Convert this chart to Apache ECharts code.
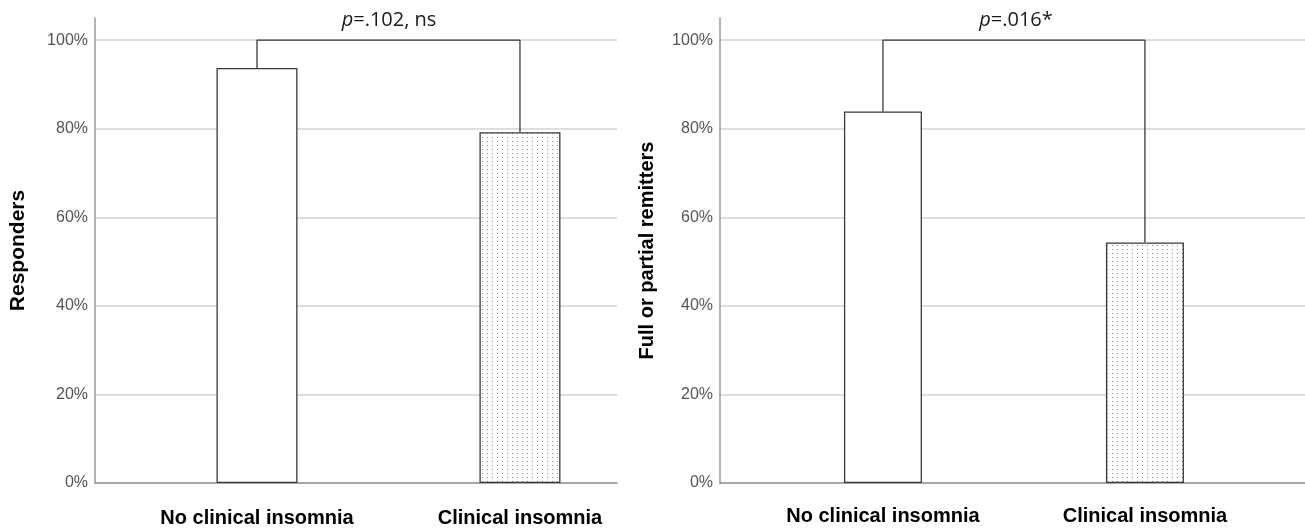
<!DOCTYPE html>
<html>
<head>
<meta charset="utf-8">
<script src="https://cdn.jsdelivr.net/npm/echarts@6/dist/echarts.min.js"></script>
<style>
html,body{margin:0;padding:0;background:#fff;}
#chart{width:1305px;height:528px;}
</style>
</head>
<body>
<div id="chart"></div>
<script>
// ---- data ----
const categories = ['No clinical insomnia', 'Clinical insomnia'];
const respondersPct = [93.7, 79.2];
const remittersPct = [83.9, 54.3];
const yTicks = [0, 20, 40, 60, 80, 100];
const pValueText = ['.102, ns', '.016*'];
const yTitles = ['Responders', 'Full or partial remitters'];

// dotted pattern for clinical insomnia bar
const pc = document.createElement('canvas');
pc.width = 5; pc.height = 4;
const pctx = pc.getContext('2d');
pctx.fillStyle = '#ffffff'; pctx.fillRect(0, 0, 5, 4);
pctx.fillStyle = '#8c8c8c'; pctx.fillRect(2, 1, 1, 1);

const chart = echarts.init(document.getElementById('chart'));

const panels = [
  { vals: respondersPct, left: 95, right: 688, xmin: -0.616, xmax: 1.369, barW: 81, nameGap: 66, nameSize: 21, labelMargin: 25, titleX: 384 },
  { vals: remittersPct, left: 720, right: 0, xmin: -0.622, xmax: 1.611, barW: 78, nameGap: 63, nameSize: 20, labelMargin: 23, titleX: 1011 }
];

const grids = [], xAxes = [], yAxes = [], series = [], titles = [];
panels.forEach((p, i) => {
  grids.push({ left: p.left, right: p.right, top: 18, bottom: 45 });
  xAxes.push({
    type: 'value', gridIndex: i, min: p.xmin, max: p.xmax,
    axisLine: { show: true, onZero: false, lineStyle: { color: '#8a8a8a', width: 1.5 } },
    axisTick: { show: false },
    splitLine: { show: false },
    axisLabel: {
      customValues: [0, 1],
      formatter: v => categories[Math.round(v)],
      margin: p.labelMargin,
      color: '#000', fontWeight: 'bold', fontSize: 20, fontFamily: 'Liberation Sans'
    }
  });
  yAxes.push({
    type: 'value', gridIndex: i, min: 0, max: 105, interval: 20,
    name: yTitles[i], nameLocation: 'middle', nameGap: p.nameGap, nameRotate: 90,
    nameTextStyle: { color: '#000', fontWeight: 'bold', fontSize: p.nameSize, fontFamily: 'Liberation Sans' },
    axisLine: { show: true, onZero: false, lineStyle: { color: '#9a9a9a', width: 1.5 } },
    axisTick: { show: false },
    axisLabel: {
      showMaxLabel: false, margin: 7,
      formatter: v => v + '%',
      color: '#555', fontSize: 16, fontFamily: 'Liberation Sans'
    },
    splitLine: { show: true, showMinLine: false, showMaxLine: false, lineStyle: { color: '#d2d2d2', width: 1.5 } }
  });
  series.push({
    type: 'bar', xAxisIndex: i, yAxisIndex: i, barWidth: p.barW, z: 2,
    data: p.vals.map((v, k) => ({
      value: [k, v],
      itemStyle: {
        color: k === 0 ? '#ffffff' : { image: pc, repeat: 'repeat' },
        borderColor: '#3a3a3a', borderWidth: 1.3
      }
    })),
    silent: true
  });
  series.push({
    type: 'line', xAxisIndex: i, yAxisIndex: i, z: 3,
    symbol: 'none', silent: true, animation: false,
    lineStyle: { color: '#3a3a3a', width: 1.3 },
    data: [[0, p.vals[0]], [0, yTicks[yTicks.length - 1]], [1, yTicks[yTicks.length - 1]], [1, p.vals[1]]]
  });
  titles.push({ text: '{i|p}=' + pValueText[i], left: p.titleX, top: 5, textAlign: 'center',
    textStyle: { fontSize: 20, fontWeight: 'normal', color: '#1a1a1a', fontFamily: 'Open Sans',
      rich: { i: { fontStyle: 'italic', fontSize: 20, color: '#1a1a1a', fontFamily: 'Open Sans' } } } });
});

chart.setOption({
  animation: false,
  backgroundColor: '#ffffff',
  title: titles,
  grid: grids,
  xAxis: xAxes,
  yAxis: yAxes,
  series: series
});
</script>
</body>
</html>
